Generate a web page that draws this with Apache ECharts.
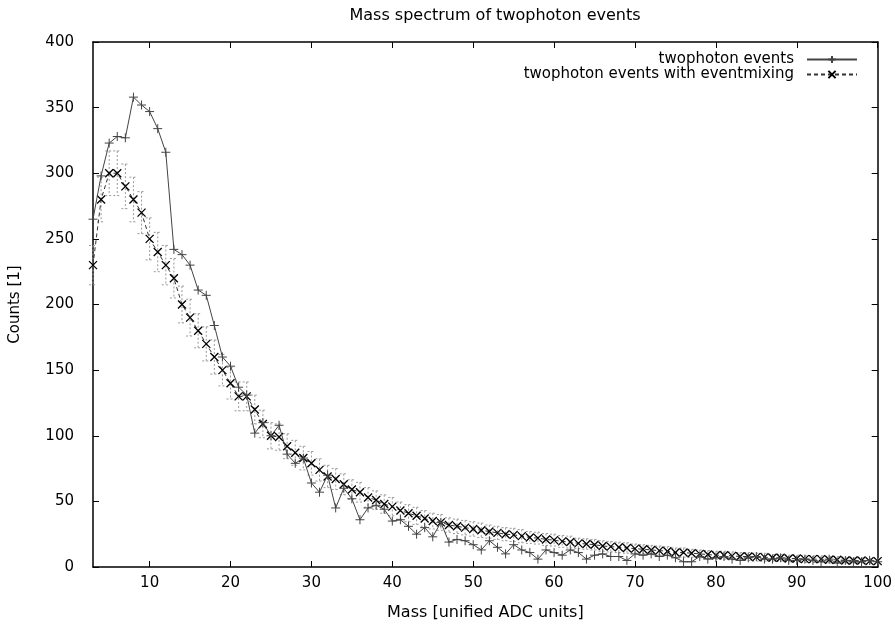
<!DOCTYPE html>
<html>
<head>
<meta charset="utf-8">
<script src="https://cdn.jsdelivr.net/npm/echarts@6/dist/echarts.min.js"></script>
<style>
  html, body { margin: 0; padding: 0; background: #fff; }
  #chart { width: 895px; height: 626px; }
</style>
</head>
<body>
<div id="chart"></div>
<script>
  // mass bins (unified ADC units)
  var mass = [];
  for (var m = 3; m <= 100; m++) mass.push(m);

  // twophoton events (+)
  var twophoton = [
    265, 298, 323, 328, 327, 358, 352, 347, 334, 316,
    242, 238, 230, 211, 207, 184, 160, 153, 137, 131,
    102, 110, 100, 108, 86, 79, 83, 64, 57, 70,
    45, 60, 52, 36, 45, 47, 44, 35, 36, 31,
    25, 30, 23, 34, 19, 21, 20, 17, 13, 20,
    15, 10, 17, 13, 11, 6, 13, 11, 9, 13,
    11, 6, 9, 10, 8, 8, 5, 10, 9, 10,
    8, 9, 7, 4, 4, 8, 6, 7, 8, 6,
    5, 7, 8, 6, 6, 7, 5, 5, 6, 5,
    4, 6, 3, 5, 4, 4, 5, 4
  ];

  // twophoton events with eventmixing (x)
  var mixing = [
    230, 280, 300, 300, 290, 280, 270, 250, 240, 230,
    220, 200, 190, 180, 170, 160, 150, 140, 130, 130,
    120, 109, 100, 99, 92, 87, 83, 79, 74, 69,
    67, 63, 59, 57, 53, 51, 48, 46, 43, 41,
    39, 37, 35, 34, 32, 31, 30, 29, 28, 27,
    26, 25, 24.5, 23.5, 22.5, 22, 21, 20.5, 19.5, 19,
    18, 17.5, 17, 16, 15.5, 15, 14.5, 14, 13.5, 13,
    12.5, 12, 11, 11, 10.5, 10, 9.5, 9, 9, 8.5,
    8, 8, 7.5, 7.5, 7, 7, 6.5, 6.5, 6, 6,
    6, 5.5, 5.5, 5, 5, 5, 4.5, 4.5
  ];

  // error on the eventmixing points
  var mixingErr = [
    15, 17, 17, 17, 17, 17, 16, 16, 15, 15,
    15, 14, 14, 13, 13, 13, 12, 12, 11, 11,
    11, 10.5, 10, 10, 9.5, 9.5, 9, 9, 8.5, 8.5,
    8, 8, 7.5, 7.5, 7.5, 7, 7, 7, 6.5, 6.5,
    6.5, 6, 6, 6, 5.5, 5.5, 5.5, 5.5, 5.5, 5,
    5, 5, 5, 5, 4.5, 4.5, 4.5, 4.5, 4.5, 4.5,
    4, 4, 4, 4, 4, 4, 4, 3.5, 3.5, 3.5,
    3.5, 3.5, 3.5, 3.5, 3, 3, 3, 3, 3, 3,
    3, 3, 3, 3, 2.5, 2.5, 2.5, 2.5, 2.5, 2.5,
    2.5, 2.5, 2.5, 2, 2, 2, 2, 2
  ];

  var xTicks = [10, 20, 30, 40, 50, 60, 70, 80, 90, 100];

  var font = 'DejaVu Sans';
  var plusPath = 'path://M0,5L10,5M5,0L5,10';
  var crossPath = 'path://M0,0L10,10M10,0L0,10';

  var solidData = [], mixData = [], errData = [];
  for (var i = 0; i < mass.length; i++) {
    solidData.push([mass[i], twophoton[i]]);
    mixData.push([mass[i], mixing[i]]);
    errData.push([mass[i], mixing[i] - mixingErr[i], mixing[i] + mixingErr[i]]);
  }

  var chart = echarts.init(document.getElementById('chart'));

  var frameLine = { show: true, onZero: false, lineStyle: { color: '#000', width: 1.5 } };
  var inTick = { show: true, inside: true, length: 6, lineStyle: { color: '#000', width: 1 } };

  chart.setOption({
    animation: false,
    backgroundColor: '#fff',
    title: {
      text: 'Mass spectrum of twophoton events',
      left: 490,
      textAlign: 'center',
      top: 3,
      textStyle: { fontFamily: font, fontSize: 16, fontWeight: 'normal', color: '#000' }
    },
    legend: [{
      data: ['twophoton events'],
      right: 32,
      top: 47,
      align: 'right',
      itemWidth: 50,
      itemHeight: 9,
      textStyle: { fontFamily: font, fontSize: 15, color: '#000', padding: [0, 8, 0, 0] }
    }, {
      data: ['twophoton events with eventmixing'],
      right: 32,
      top: 62,
      align: 'right',
      itemWidth: 50,
      itemHeight: 9,
      textStyle: { fontFamily: font, fontSize: 15, color: '#000', padding: [0, 8, 0, 0] }
    }],
    grid: { left: 91, right: 15, top: 42, bottom: 56 },
    xAxis: [{
      type: 'value',
      min: 3,
      max: 100,
      name: 'Mass [unified ADC units]',
      nameLocation: 'middle',
      nameGap: 38,
      nameTextStyle: { fontFamily: font, fontSize: 16, color: '#000' },
      axisLine: frameLine,
      axisTick: Object.assign({ customValues: xTicks }, inTick),
      axisLabel: { customValues: xTicks, fontFamily: font, fontSize: 15, color: '#000', margin: 9 },
      splitLine: { show: false }
    }, {
      type: 'value',
      position: 'top',
      min: 3,
      max: 100,
      axisLine: frameLine,
      axisTick: Object.assign({ customValues: xTicks }, inTick),
      axisLabel: { show: false },
      splitLine: { show: false }
    }],
    yAxis: [{
      type: 'value',
      min: 0,
      max: 400,
      interval: 50,
      name: 'Counts [1]',
      nameLocation: 'middle',
      nameGap: 70,
      nameTextStyle: { fontFamily: font, fontSize: 15, color: '#000' },
      axisLine: frameLine,
      axisTick: inTick,
      axisLabel: { fontFamily: font, fontSize: 15, color: '#000', margin: 19 },
      splitLine: { show: false }
    }, {
      type: 'value',
      position: 'right',
      min: 0,
      max: 400,
      interval: 50,
      axisLine: frameLine,
      axisTick: inTick,
      axisLabel: { show: false },
      splitLine: { show: false }
    }],
    series: [{
      type: 'custom',
      name: 'errors',
      data: errData,
      z: 1,
      renderItem: function (params, api) {
        var x = api.value(0);
        var lo = api.coord([x, api.value(1)]);
        var hi = api.coord([x, api.value(2)]);
        var w = 4;
        var st = { stroke: '#999', lineWidth: 1, lineDash: [2, 2] };
        return {
          type: 'group',
          children: [
            { type: 'line', shape: { x1: hi[0], y1: hi[1], x2: lo[0], y2: lo[1] }, style: st },
            { type: 'line', shape: { x1: hi[0] - w, y1: hi[1], x2: hi[0] + w, y2: hi[1] }, style: st },
            { type: 'line', shape: { x1: lo[0] - w, y1: lo[1], x2: lo[0] + w, y2: lo[1] }, style: st }
          ]
        };
      }
    }, {
      type: 'line',
      name: 'twophoton events with eventmixing',
      data: mixData,
      z: 2,
      symbol: crossPath,
      symbolSize: 8,
      showAllSymbol: true,
      lineStyle: { color: '#333', width: 1, type: [4, 3] },
      itemStyle: { color: 'none', borderColor: '#000', borderWidth: 1.3 }
    }, {
      type: 'line',
      name: 'twophoton events',
      data: solidData,
      z: 3,
      symbol: plusPath,
      symbolSize: 9,
      showAllSymbol: true,
      lineStyle: { color: '#444', width: 1 },
      itemStyle: { color: 'none', borderColor: '#444', borderWidth: 1 }
    }]
  });
</script>
</body>
</html>
